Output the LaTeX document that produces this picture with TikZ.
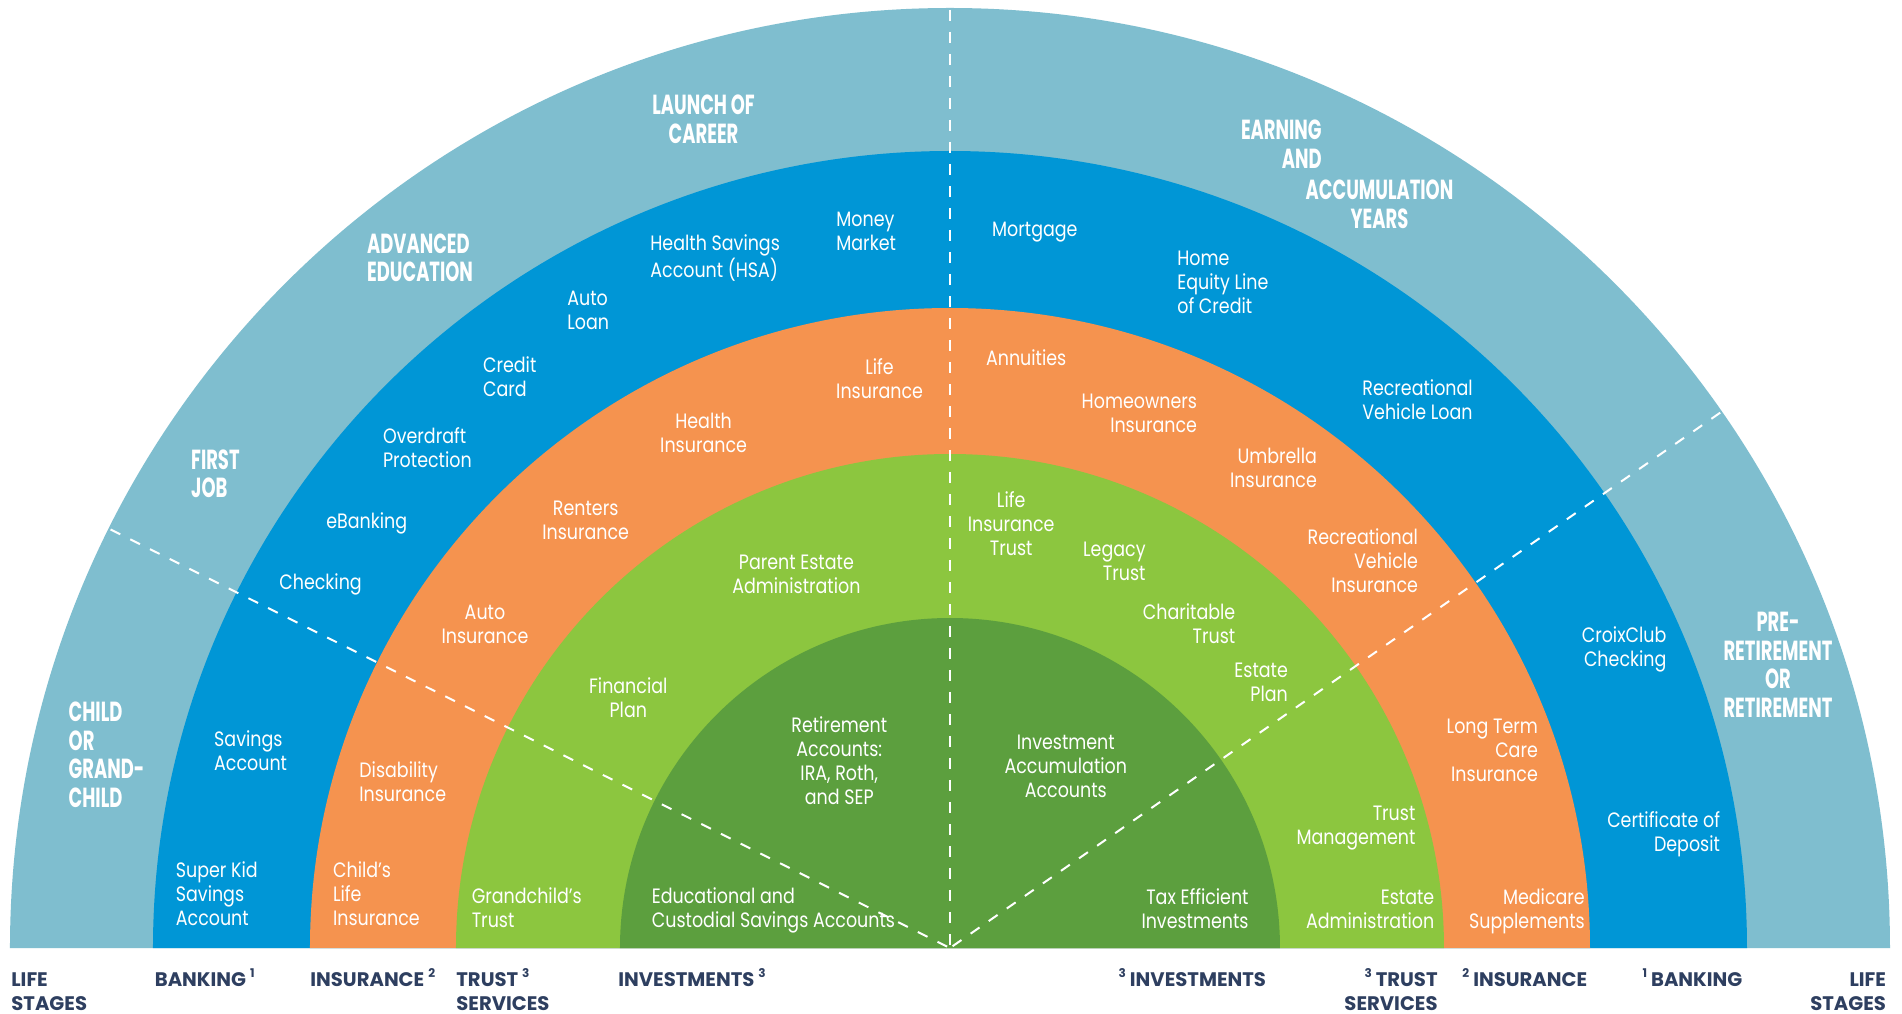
\documentclass[tikz,border=0pt]{standalone}
\usepackage{fontspec}
\newfontfamily\regfont{Poppins}[FakeStretch=0.84]
\newfontfamily\headfont{Poppins}[FakeStretch=0.65]
\newfontfamily\botfont{Poppins}
\definecolor{lifeblue}{HTML}{7FBECF}
\definecolor{bankblue}{HTML}{0096D6}
\definecolor{insorange}{HTML}{F5934F}
\definecolor{trustgreen}{HTML}{8CC63F}
\definecolor{investgreen}{HTML}{5C9F3E}
\definecolor{navytext}{HTML}{2E3F60}
\newcommand\supn[1]{\raisebox{0.8ex}{\fontsize{6}{6}\selectfont #1}}
\tikzset{
  lbl/.style={text=white, inner sep=0pt, font=\regfont\fontsize{10.4}{12}\selectfont},
  hd/.style={text=white, inner sep=0pt, font=\headfont\bfseries\fontsize{13.8}{14.3}\selectfont},
  bot/.style={text=navytext, inner sep=0pt, font=\botfont\bfseries\fontsize{9.8}{11.65}\selectfont},
  ll/.style={anchor=base west, align=left},
  rr/.style={anchor=base east, align=right},
  cc/.style={anchor=base, align=center},
  divider/.style={draw=white, line width=1pt, dash pattern=on 5.4pt off 5.6pt},
}
\begin{document}
\begin{tikzpicture}[x=0.5pt,y=0.5pt]
\useasboundingbox (-950,-65) rectangle (952,948);
\fill[white] (-950,-65) rectangle (952,948);
% bands
\fill[lifeblue] (-940,0) arc[start angle=180,end angle=0,radius=940] -- cycle;
\fill[bankblue] (-797,0) arc[start angle=180,end angle=0,radius=797] -- cycle;
\fill[insorange] (-640,0) arc[start angle=180,end angle=0,radius=640] -- cycle;
\fill[trustgreen] (-494,0) arc[start angle=180,end angle=0,radius=494] -- cycle;
\fill[investgreen] (-330,0) arc[start angle=180,end angle=0,radius=330] -- cycle;
% dividers
\coordinate (c0) at (0,0);
\coordinate (dtop) at (90:938);
\coordinate (dleft) at (153.5:938);
\coordinate (dright) at (34.8:938);
\draw[divider] (dtop) -- (c0);
\draw[divider] (dleft) -- (c0);
\draw[divider] (dright) -- (c0);
% life stages (anchors at last-line baselines)
\node[hd,cc] (launch) at (-246.4,804.4) {LAUNCH OF\\CAREER};
\node[hd,ll] (advanced) at (-583.2,666.1) {ADVANCED\\EDUCATION};
\node[hd,ll] (firstjob) at (-759.2,450.1) {FIRST\\JOB};
\node[hd,ll] (child) at (-881.7,140.5) {CHILD\\OR\\GRAND-\\CHILD};
\node[hd,rr] (earning) at (372,779.4) {EARNING\\AND};
\node[hd,cc] (accum) at (429.5,719.4) {ACCUMULATION\\YEARS};
\node[hd,cc] (preret) at (828,230.7) {PRE-\\RETIREMENT\\OR\\RETIREMENT};
% banking
\node[lbl,ll] (money) at (-114,697.3) {Money\\Market};
\node[lbl,ll] (hsa) at (-300,670) {Health Savings\\Account (HSA)};
\node[lbl,ll] (autoloan) at (-383,618.3) {Auto\\Loan};
\node[lbl,ll] (credit) at (-467.3,551.3) {Credit\\Card};
\node[lbl,ll] (overdraft) at (-567.3,480) {Overdraft\\Protection};
\node[lbl,ll] (ebank) at (-624,419.7) {eBanking};
\node[lbl,ll] (checking) at (-671,358.7) {Checking};
\node[lbl,ll] (savings) at (-736.2,177.3) {Savings\\Account};
\node[lbl,ll] (superkid) at (-774.5,22.3) {Super Kid\\Savings\\Account};
\node[lbl,ll] (mortgage) at (41.8,711.3) {Mortgage};
\node[lbl,ll] (heloc) at (227,634.3) {Home\\Equity Line\\of Credit};
\node[lbl,ll] (rvloan) at (412,528) {Recreational\\Vehicle Loan};
\node[lbl,rr] (croix) at (716.8,281.7) {CroixClub\\Checking};
\node[lbl,rr] (cd) at (770.4,96.3) {Certificate of\\Deposit};
% insurance
\node[lbl,cc] (lifeins) at (-70.4,549) {Life\\Insurance};
\node[lbl,cc] (healthins) at (-246.4,495.7) {Health\\Insurance};
\node[lbl,cc] (renters) at (-364.3,408) {Renters\\Insurance};
\node[lbl,cc] (autoins) at (-465,304) {Auto\\Insurance};
\node[lbl,ll] (disab) at (-591,146.3) {Disability\\Insurance};
\node[lbl,ll] (childlife) at (-617.3,22.3) {Child’s\\Life\\Insurance};
\node[lbl,ll] (annuities) at (35.7,582) {Annuities};
\node[lbl,rr] (homeowners) at (247.4,515.7) {Homeowners\\Insurance};
\node[lbl,rr] (umbrella) at (367.3,460.7) {Umbrella\\Insurance};
\node[lbl,rr] (rvins) at (468.4,355) {Recreational\\Vehicle\\Insurance};
\node[lbl,rr] (ltc) at (588.3,166) {Long Term\\Care\\Insurance};
\node[lbl,rr] (medicare) at (635.2,20) {Medicare\\Supplements};
% trust
\node[lbl,cc] (parent) at (-153.6,354.7) {Parent Estate\\Administration};
\node[lbl,cc] (finplan) at (-321.7,230.7) {Financial\\Plan};
\node[lbl,ll] (grandtrust) at (-478.6,20.7) {Grandchild’s\\Trust};
\node[lbl,cc] (lifetrust) at (61.2,392.7) {Life\\Insurance\\Trust};
\node[lbl,rr] (legacy) at (196,367.3) {Legacy\\Trust};
\node[lbl,rr] (charit) at (285.7,304) {Charitable\\Trust};
\node[lbl,rr] (estplan) at (338.3,246.7) {Estate\\Plan};
\node[lbl,rr] (trustmgmt) at (465.8,104) {Trust\\Management};
\node[lbl,rr] (estadmin) at (484.7,20) {Estate\\Administration};
% investments
\node[lbl,cc] (retire) at (-110.7,143.7) {Retirement\\Accounts:\\IRA, Roth,\\and SEP};
\node[lbl,ll] (educ) at (-298.5,20.7) {Educational and\\Custodial Savings Accounts};
\node[lbl,cc] (invacc) at (115.8,150) {Investment\\Accumulation\\Accounts};
\node[lbl,rr] (taxeff) at (299,20) {Tax Efficient\\Investments};
% bottom legend
\node[bot,ll] (lifeL) at (-939,-62) {LIFE\\STAGES};
\node[bot,ll] (bankL) at (-795.5,-38.7) {BANKING\kern2pt\supn{1}};
\node[bot,ll] (insL) at (-640,-38.7) {INSURANCE\kern2pt\supn{2}};
\node[bot,ll] (trustL) at (-494,-62) {TRUST\kern2pt\supn{3}\\SERVICES};
\node[bot,ll] (invL) at (-332,-38.7) {INVESTMENTS\kern2pt\supn{3}};
\node[bot,rr] (invR) at (316.4,-38.7) {\supn{3}\kern2pt INVESTMENTS};
\node[bot,rr] (trustR) at (488,-62) {\supn{3}\kern2pt TRUST\\SERVICES};
\node[bot,rr] (insR) at (637.6,-38.7) {\supn{2}\kern2pt INSURANCE};
\node[bot,rr] (bankR) at (792.7,-38.7) {\supn{1}\kern2pt BANKING};
\node[bot,rr] (lifeR) at (936.4,-62) {LIFE\\STAGES};
\end{tikzpicture}
\end{document}
